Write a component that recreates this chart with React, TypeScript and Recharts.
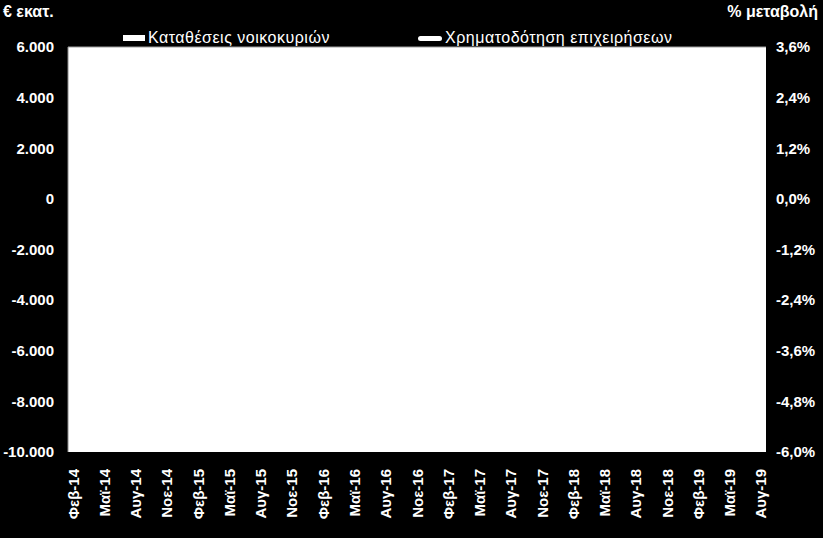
import React from "react";
import {
  ComposedChart,
  Bar,
  Line,
  XAxis,
  YAxis,
  CartesianGrid,
  ReferenceLine,
} from "recharts";

// monthly categories Feb-14 .. Aug-19
const months = [
  "Φεβ-14", "Μαρ-14", "Απρ-14", "Μαϊ-14", "Ιουν-14", "Ιουλ-14", "Αυγ-14", "Σεπ-14", "Οκτ-14", "Νοε-14", "Δεκ-14",
  "Ιαν-15", "Φεβ-15", "Μαρ-15", "Απρ-15", "Μαϊ-15", "Ιουν-15", "Ιουλ-15", "Αυγ-15", "Σεπ-15", "Οκτ-15", "Νοε-15", "Δεκ-15",
  "Ιαν-16", "Φεβ-16", "Μαρ-16", "Απρ-16", "Μαϊ-16", "Ιουν-16", "Ιουλ-16", "Αυγ-16", "Σεπ-16", "Οκτ-16", "Νοε-16", "Δεκ-16",
  "Ιαν-17", "Φεβ-17", "Μαρ-17", "Απρ-17", "Μαϊ-17", "Ιουν-17", "Ιουλ-17", "Αυγ-17", "Σεπ-17", "Οκτ-17", "Νοε-17", "Δεκ-17",
  "Ιαν-18", "Φεβ-18", "Μαρ-18", "Απρ-18", "Μαϊ-18", "Ιουν-18", "Ιουλ-18", "Αυγ-18", "Σεπ-18", "Οκτ-18", "Νοε-18", "Δεκ-18",
  "Ιαν-19", "Φεβ-19", "Μαρ-19", "Απρ-19", "Μαϊ-19", "Ιουν-19", "Ιουλ-19", "Αυγ-19",
];

// household deposits, monthly flow (€ million) - drawn white, not visible in the reference
const householdDeposits = [
  -400, 300, -200, 600, 200, 900, 400, -300, 100, -500, -2100,
  -7600, -5200, -3500, -3100, -2900, -6400, -2000, -600, -400, -300, -900, 400,
  -1400, -700, -200, -300, 100, 300, 500, 200, -400, -200, -300, 900,
  -1500, -600, -200, -100, 400, 600, 700, 200, -300, -100, 100, 1200,
  -1600, -300, 200, 300, 500, 900, 1100, 300, -200, 100, 200, 1800,
  -1100, -200, 400, 600, 700, 1000, 1200, 500,
];

// business financing, annual % change - drawn white, not visible in the reference
const businessFinancing = [
  -3.4, -3.3, -3.2, -3.1, -3.0, -2.9, -2.8, -2.6, -2.5, -2.3, -2.2,
  -2.0, -1.8, -1.6, -1.5, -1.4, -1.3, -1.1, -1.0, -1.0, -1.1, -1.2, -1.3,
  -1.2, -1.1, -1.0, -1.0, -0.9, -0.8, -0.8, -0.7, -0.6, -0.5, -0.5, -0.4,
  -0.4, -0.5, -0.6, -0.5, -0.4, -0.3, -0.2, -0.1, 0.0, 0.2, 0.4, 0.6,
  0.8, 1.0, 1.1, 1.2, 1.1, 1.0, 1.2, 1.4, 1.5, 1.6, 1.8, 2.0,
  1.9, 1.8, 1.7, 1.6, 1.5, 1.6, 1.7, 1.8,
];

const leftTicks = [-10000, -8000, -6000, -4000, -2000, 0, 2000, 4000, 6000];
const rightTicks = [-6, -4.8, -3.6, -2.4, -1.2, 0, 1.2, 2.4, 3.6];

const data = months.map((m, i) => ({
  month: m,
  deposits: householdDeposits[i],
  financing: businessFinancing[i],
}));

const FONT = "'Liberation Sans', Arial, sans-serif";

const fmtLeft = (v: number) => {
  const s = Math.abs(v).toString().replace(/\B(?=(\d{3})+(?!\d))/g, ".");
  return v < 0 ? "-" + s : s;
};
const fmtRight = (v: number) => v.toFixed(1).replace(".", ",") + "%";

const MonthTick = (props: any) => {
  const { x, y, payload } = props;
  return (
    <text
      x={x}
      y={y + 9}
      transform={`rotate(-90 ${x} ${y + 9})`}
      textAnchor="end"
      dominantBaseline="central"
      fill="#fff"
      fontSize={15}
      fontWeight="bold"
      fontFamily={FONT}
    >
      {payload.value}
    </text>
  );
};

const legendStyle: React.CSSProperties = {
  position: "absolute",
  top: 29,
  display: "flex",
  alignItems: "center",
  color: "#fff",
  fontSize: 16,
  letterSpacing: 0.5,
  whiteSpace: "nowrap",
};

export default function App() {
  return (
    <div
      style={{
        position: "fixed",
        left: 0,
        top: 0,
        width: 823,
        height: 538,
        background: "#000",
        fontFamily: FONT,
      }}
    >
      <ComposedChart
        width={823}
        height={538}
        data={data}
        margin={{ top: 47, right: 0, bottom: 0, left: 0 }}
        barCategoryGap="20%"
      >
        <CartesianGrid fill="#fff" fillOpacity={1} horizontal={false} vertical={false} yAxisId="left" />
        <XAxis
          dataKey="month"
          interval={2}
          height={86}
          axisLine={false}
          tickLine={false}
          tick={<MonthTick />}
        />
        <YAxis
          yAxisId="left"
          domain={[-10000, 6000]}
          ticks={leftTicks}
          tickFormatter={fmtLeft}
          width={68}
          axisLine={{ stroke: "#8c8c8c" }}
          tickLine={false}
          tickSize={6}
          tickMargin={8}
          tick={{ fill: "#fff", fontSize: 15, fontWeight: "bold", fontFamily: FONT }}
        />
        <YAxis
          yAxisId="right"
          orientation="right"
          domain={[-6, 3.6]}
          ticks={rightTicks}
          tickFormatter={fmtRight}
          width={57}
          axisLine={false}
          tickLine={false}
          tickSize={6}
          tickMargin={4}
          tick={{ fill: "#fff", fontSize: 15, fontWeight: "bold", fontFamily: FONT }}
        />
        <ReferenceLine yAxisId="left" y={6000} stroke="#a0a0a0" strokeWidth={1} />
        <Bar yAxisId="left" dataKey="deposits" fill="#fff" isAnimationActive={false} />
        <Line
          yAxisId="right"
          dataKey="financing"
          stroke="#fff"
          strokeWidth={3}
          dot={false}
          isAnimationActive={false}
        />
      </ComposedChart>

      <div style={{ position: "absolute", left: 3, top: 3, color: "#fff", fontWeight: "bold", fontSize: 16 }}>
        € εκατ.
      </div>
      <div style={{ position: "absolute", right: 5, top: 3, color: "#fff", fontWeight: "bold", fontSize: 16 }}>
        % μεταβολή
      </div>

      <div style={{ ...legendStyle, left: 123 }}>
        <span style={{ display: "inline-block", width: 22, height: 6, background: "#fff", marginRight: 3 }} />
        Καταθέσεις νοικοκυριών
      </div>
      <div style={{ ...legendStyle, left: 418 }}>
        <span style={{ display: "inline-block", width: 24, height: 5, borderRadius: 3, background: "#fff", marginRight: 3 }} />
        Χρηματοδότηση επιχειρήσεων
      </div>
    </div>
  );
}
